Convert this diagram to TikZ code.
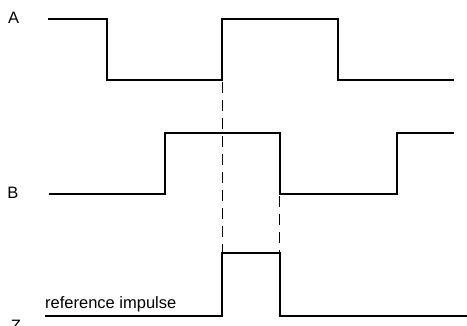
\documentclass[tikz,border=0pt]{standalone}
\usepackage{fontspec}
\setmainfont{Liberation Sans}
\begin{document}
\begin{tikzpicture}[x=1pt,y=-1pt,
  wave/.style={line width=2pt,line join=miter,line cap=butt},
  guide/.style={line width=0.9pt,dash pattern=on 11pt off 7pt},
  lbl/.style={inner sep=0pt,font=\fontsize{16.5}{19}\selectfont}]
\useasboundingbox (0,0) rectangle (467,326);
% signal levels
\def\ahi{19.5}\def\alo{80.5}
\def\bhi{133.3}\def\blo{194.3}
\def\zhi{252.8}\def\zlo{315.8}
% labels
\node[lbl] (la) at (13.7,18) {A};
\node[lbl] (lb) at (13,193) {B};
\node[lbl,anchor=north] (lz) at (16,320) {Z};
\node[lbl,anchor=base west] (lref) at (45,308.3) {reference impulse};
% A
\draw[wave] (48.3,\ahi) -- (106.7,\ahi) -- (106.7,\alo) -- (222.3,\alo)
  -- (222.3,\ahi) -- (337.7,\ahi) -- (337.7,\alo) -- (454,\alo);
% B
\draw[wave] (49,\blo) -- (164.5,\blo) -- (164.5,\bhi) -- (279.7,\bhi)
  -- (279.7,\blo) -- (396.7,\blo) -- (396.7,\bhi) -- (454,\bhi);
% Z
\draw[wave] (45.3,\zlo) -- (222.3,\zlo) -- (222.3,\zhi) -- (279.7,\zhi)
  -- (279.7,\zlo) -- (467,\zlo);
% guides
\coordinate (g1a) at (222,\alo+2);
\coordinate (g1b) at (222,\zhi-1);
\coordinate (g2a) at (279.7,\blo+2);
\coordinate (g2b) at (279.7,\zhi-1);
\draw[guide] (g1a) -- (g1b);
\draw[guide] (g2a) -- (g2b);
\end{tikzpicture}
\end{document}
